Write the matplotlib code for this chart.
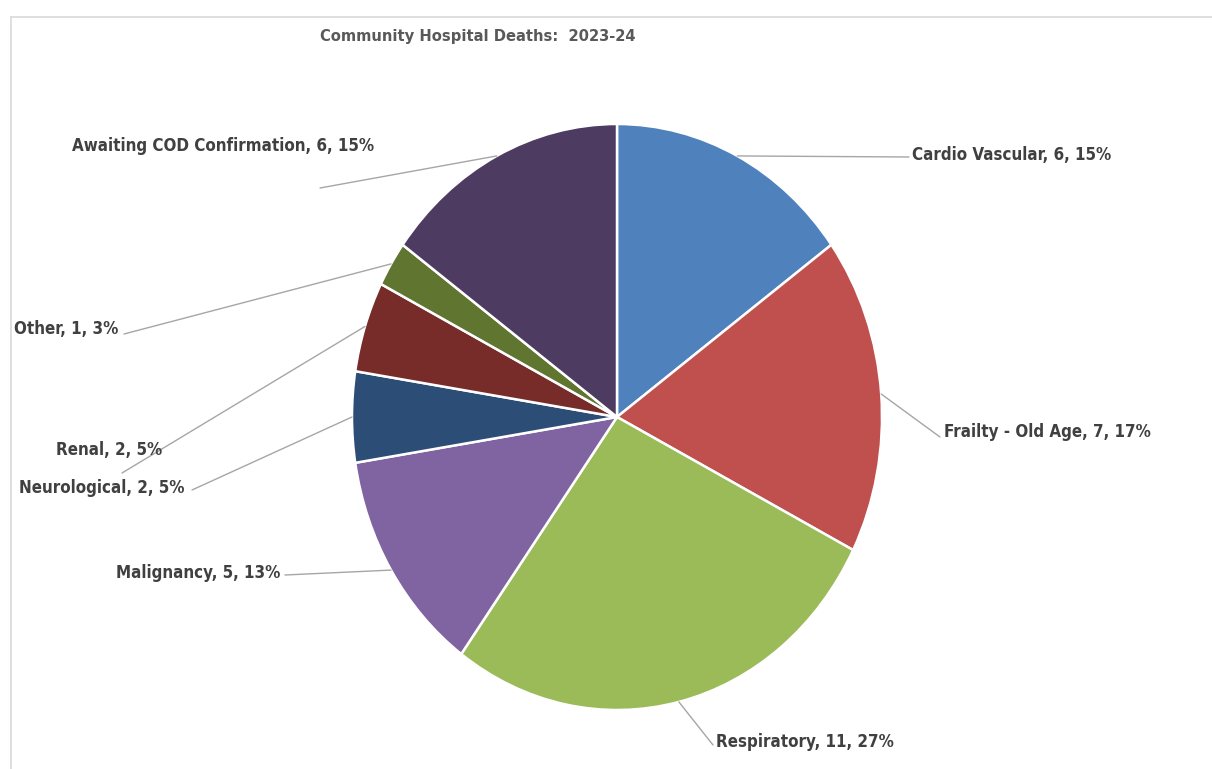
import numpy as np
import matplotlib
matplotlib.use('Agg')
import matplotlib.pyplot as plt
from matplotlib.lines import Line2D

# chart data
causes = ['Cardio Vascular', 'Frailty - Old Age', 'Respiratory', 'Malignancy',
          'Neurological', 'Renal', 'Other', 'Awaiting COD Confirmation']
deaths = [6, 7, 11, 5, 2, 2, 1, 6]
percent_labels = ['15%', '17%', '27%', '13%', '5%', '5%', '3%', '15%']
colors = ['#4F81BD', '#C0504D', '#9BBB59', '#8064A2',
          '#2C4D75', '#772C2A', '#5F7530', '#4D3B62']
title = 'Community Hospital Deaths:  2023-24'

W, H = 1212, 769

# label layout in image pixels: text anchor, alignment, leader end point
label_pos = [(912, 155, 'left'), (944, 432, 'left'), (716, 742, 'left'),
             (280, 573, 'right'), (185, 488, 'right'), (162, 450, 'right'),
             (118, 329, 'right'), (374, 146, 'right')]
leader_end = [(909, 157), (940, 437), (713, 745), (285, 575), (192, 490),
              (122, 473), (124, 334), (320, 188)]

font = ['DejaVu Sans']
text_color = '#404040'

fig = plt.figure(figsize=(W / 100, H / 100), dpi=100)
fig.patch.set_facecolor('white')

# pie axes: elliptical pie (taller than wide, as in the source)
cx, cy, rx, ry = 617, 417, 265, 293
ax = fig.add_axes([(cx - rx) / W, (H - cy - ry) / H, 2 * rx / W, 2 * ry / H])
wedges, _ = ax.pie(deaths, colors=colors, startangle=90, counterclock=False,
                   wedgeprops=dict(edgecolor='white', linewidth=1.8))
ax.set_aspect('auto')
ax.set_xlim(-1, 1)
ax.set_ylim(-1, 1)
ax.axis('off')

# leader lines and data labels
total = sum(deaths)
start = 0.0
for i, v in enumerate(deaths):
    mid = np.deg2rad((start + v / 2) / total * 360)
    start += v
    x0, y0 = np.sin(mid), np.cos(mid)
    ex, ey = leader_end[i]
    ax.annotate('', xy=(x0, y0), xycoords='data',
                xytext=(ex, H - ey), textcoords='figure pixels',
                arrowprops=dict(arrowstyle='-', color='#a6a6a6', lw=1,
                                shrinkA=0, shrinkB=0),
                annotation_clip=False)
    tx, ty, ha = label_pos[i]
    fig.text(tx / W, (H - ty) / H,
             f'{causes[i]}, {deaths[i]}, {percent_labels[i]}',
             ha=ha, va='center', fontsize=12.2, fontweight='bold',
             fontstretch='condensed', color=text_color, family=font)

fig.text(477.5 / W, (H - 37) / H, title, ha='center', va='center',
         fontsize=11.8, fontweight='bold', fontstretch='condensed',
         color='#595959', family=font)

# chart area border (top and left edges visible)
fig.add_artist(Line2D([11 / W, 11 / W], [0, (H - 17) / H],
                      transform=fig.transFigure, color='#d9d9d9', lw=1.2))
fig.add_artist(Line2D([11 / W, 1], [(H - 17) / H, (H - 17) / H],
                      transform=fig.transFigure, color='#d9d9d9', lw=1.2))

fig.savefig('out.png', dpi=100, facecolor='white')
